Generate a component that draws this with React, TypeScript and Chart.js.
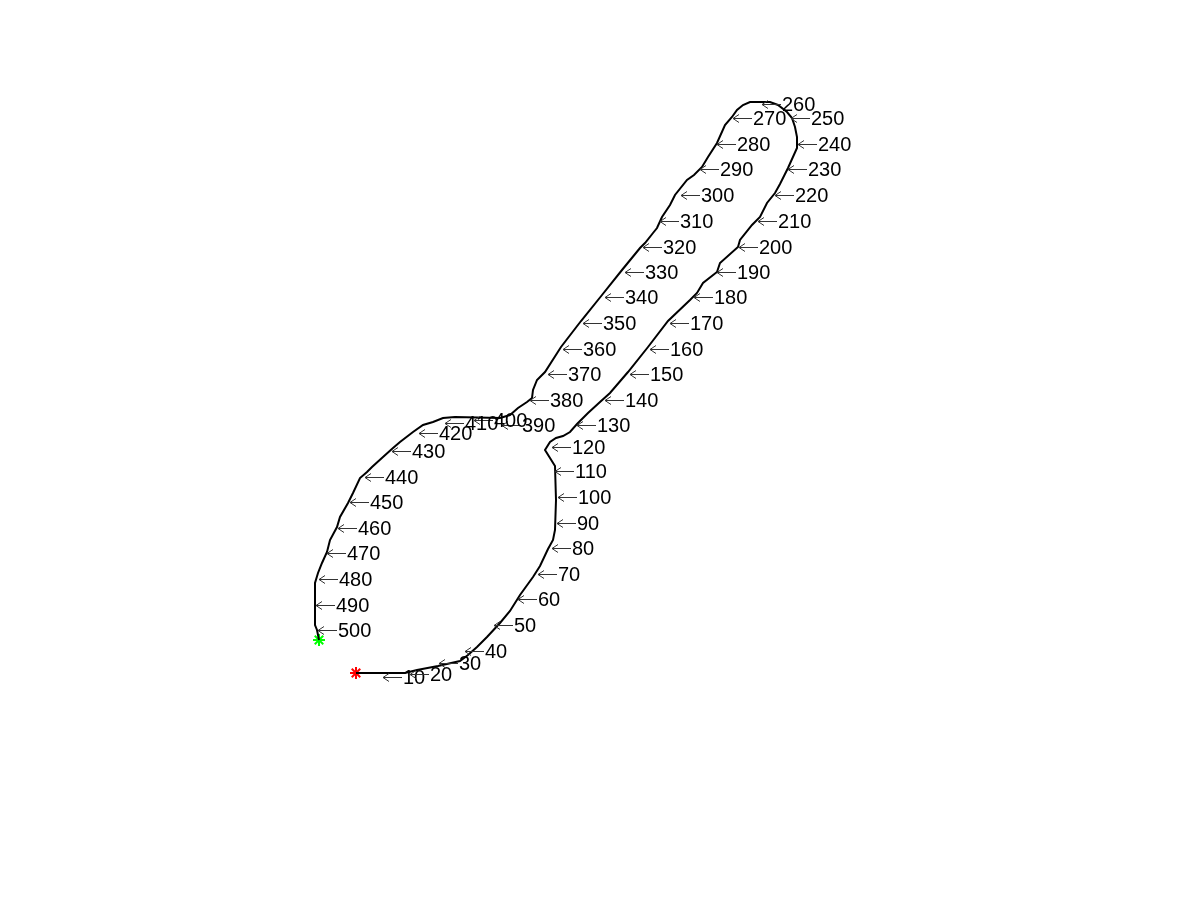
import React, { useEffect, useRef } from "react";
import { Chart, registerables } from "chart.js";

Chart.register(...registerables);

// Traced contour (x, y), in the figure's image coordinates, in path order
const contourX = [
  356, 405, 417, 438, 460, 468, 477, 487, 500, 510, 520, 533, 540, 548, 553, 555, 556, 555, 550, 545,
  550, 556, 563, 570, 577, 588, 600, 610, 628, 648, 668, 690, 697, 703, 717, 720, 738, 740, 752, 760,
  767, 775, 780, 788, 797, 797, 795, 792, 787, 778, 770, 750, 743, 737, 732, 725, 717, 708, 702, 694,
  687, 675, 670, 662, 657, 653, 645, 640, 622, 602, 581, 561, 545, 537, 533, 532, 527, 518, 510, 500,
  455, 443, 433, 423, 413, 400, 393, 383, 372, 367, 360, 353, 348, 340, 337, 330, 327, 322, 318, 315,
  315, 317, 319,
];
const contourY = [
  673, 673, 670, 666, 661, 655, 647, 637, 623, 611, 595, 577, 566, 549, 540, 530, 500, 466, 458, 450,
  442, 438, 436, 432, 424, 413, 402, 393, 372, 347, 321, 300, 293, 283, 272, 263, 247, 240, 225, 217,
  203, 193, 184, 168, 148, 137, 127, 118, 112, 105, 102, 102, 105, 110, 117, 125, 143, 157, 167, 175,
  180, 195, 205, 217, 228, 233, 243, 248, 270, 295, 321, 347, 372, 380, 390, 398, 402, 408, 415, 418,
  417, 418, 422, 425, 432, 442, 448, 457, 467, 472, 478, 493, 503, 517, 527, 540, 552, 563, 573, 583,
  625, 630, 640,
];

// First and last traced point
const startX = [356];
const startY = [673];
const endX = [319];
const endY = [640];

// Point-index labels every 10 points and where they were placed
const labelValues = [
  10, 20, 30, 40, 50, 60, 70, 80, 90, 100, 110, 120, 130, 140, 150, 160, 170, 180, 190, 200, 210, 220, 230, 240, 250,
  260, 270, 280, 290, 300, 310, 320, 330, 340, 350, 360, 370, 380, 390, 400, 410, 420, 430, 440, 450, 460, 470, 480,
  490, 500,
];
const labelX = [
  383, 410, 439, 465, 494, 518, 538, 552, 557, 558, 555, 552, 577, 605, 630, 650, 670, 694, 717, 739, 758, 775, 788,
  798, 791, 762, 733, 717, 700, 681, 660, 643, 625, 605, 583, 563, 548, 530, 502, 474, 445, 419, 392, 365, 350, 338,
  327, 319, 316, 318,
];
const labelY = [
  677, 674, 663, 651, 625, 599, 574, 548, 523, 497, 471, 447, 425, 400, 374, 349, 323, 297, 272, 247, 221, 195, 169,
  144, 118, 104, 118, 144, 169, 195, 221, 247, 272, 297, 323, 349, 374, 400, 425, 420, 423, 433, 451, 477, 502, 528,
  553, 579, 605, 630,
];

const labelPlugin = {
  id: "indexLabels",
  afterDatasetsDraw(chart: any) {
    const { ctx, scales } = chart;
    ctx.save();
    ctx.font = '20px "Liberation Sans", Arial, Helvetica, sans-serif';
    ctx.textAlign = "left";
    ctx.textBaseline = "alphabetic";
    labelValues.forEach((v, i) => {
      const x = Math.round(scales.x.getPixelForValue(labelX[i]));
      const y = Math.round(scales.y.getPixelForValue(labelY[i]));
      // left arrow (TeX \leftarrow look): thin shaft with a small open head
      ctx.strokeStyle = "#333333";
      ctx.lineWidth = 1;
      ctx.beginPath();
      ctx.moveTo(x, y + 0.5);
      ctx.lineTo(x + 19, y + 0.5);
      ctx.moveTo(x + 6, y - 3.5);
      ctx.lineTo(x, y + 0.5);
      ctx.lineTo(x + 6, y + 4.5);
      ctx.stroke();
      ctx.fillStyle = "#000000";
      ctx.fillText(String(v), x + 20, y + 7);
    });
    ctx.restore();
  },
};

export default function App() {
  const canvasRef = useRef<HTMLCanvasElement | null>(null);

  useEffect(() => {
    if (!canvasRef.current) return;
    const chart = new Chart(canvasRef.current, {
      type: "scatter",
      data: {
        datasets: [
          {
            data: contourX.map((x, i) => ({ x, y: contourY[i] })),
            showLine: true,
            borderColor: "#000000",
            borderWidth: 2,
            pointRadius: 0,
            pointHoverRadius: 0,
            tension: 0,
            fill: false,
          },
          {
            data: startX.map((x, i) => ({ x, y: startY[i] })),
            pointStyle: "star",
            pointRadius: 6,
            pointHoverRadius: 6,
            borderColor: "#ff0000",
            backgroundColor: "#ff0000",
            borderWidth: 2,
            showLine: false,
          },
          {
            data: endX.map((x, i) => ({ x, y: endY[i] })),
            pointStyle: "star",
            pointRadius: 6,
            pointHoverRadius: 6,
            borderColor: "#00ff00",
            backgroundColor: "#00ff00",
            borderWidth: 2,
            showLine: false,
          },
        ],
      },
      options: {
        responsive: false,
        animation: false,
        devicePixelRatio: 1,
        layout: { padding: 0, autoPadding: false },
        scales: {
          x: { type: "linear", min: 0, max: 1200, display: false },
          y: { type: "linear", min: 0, max: 900, reverse: true, display: false },
        },
        plugins: {
          legend: { display: false },
          tooltip: { enabled: false },
        },
      },
      plugins: [labelPlugin],
    });
    return () => chart.destroy();
  }, []);

  return (
    <div style={{ position: "absolute", left: 0, top: 0, width: 1200, height: 900, background: "#ffffff" }}>
      <canvas ref={canvasRef} width={1200} height={900} style={{ display: "block" }} />
    </div>
  );
}
